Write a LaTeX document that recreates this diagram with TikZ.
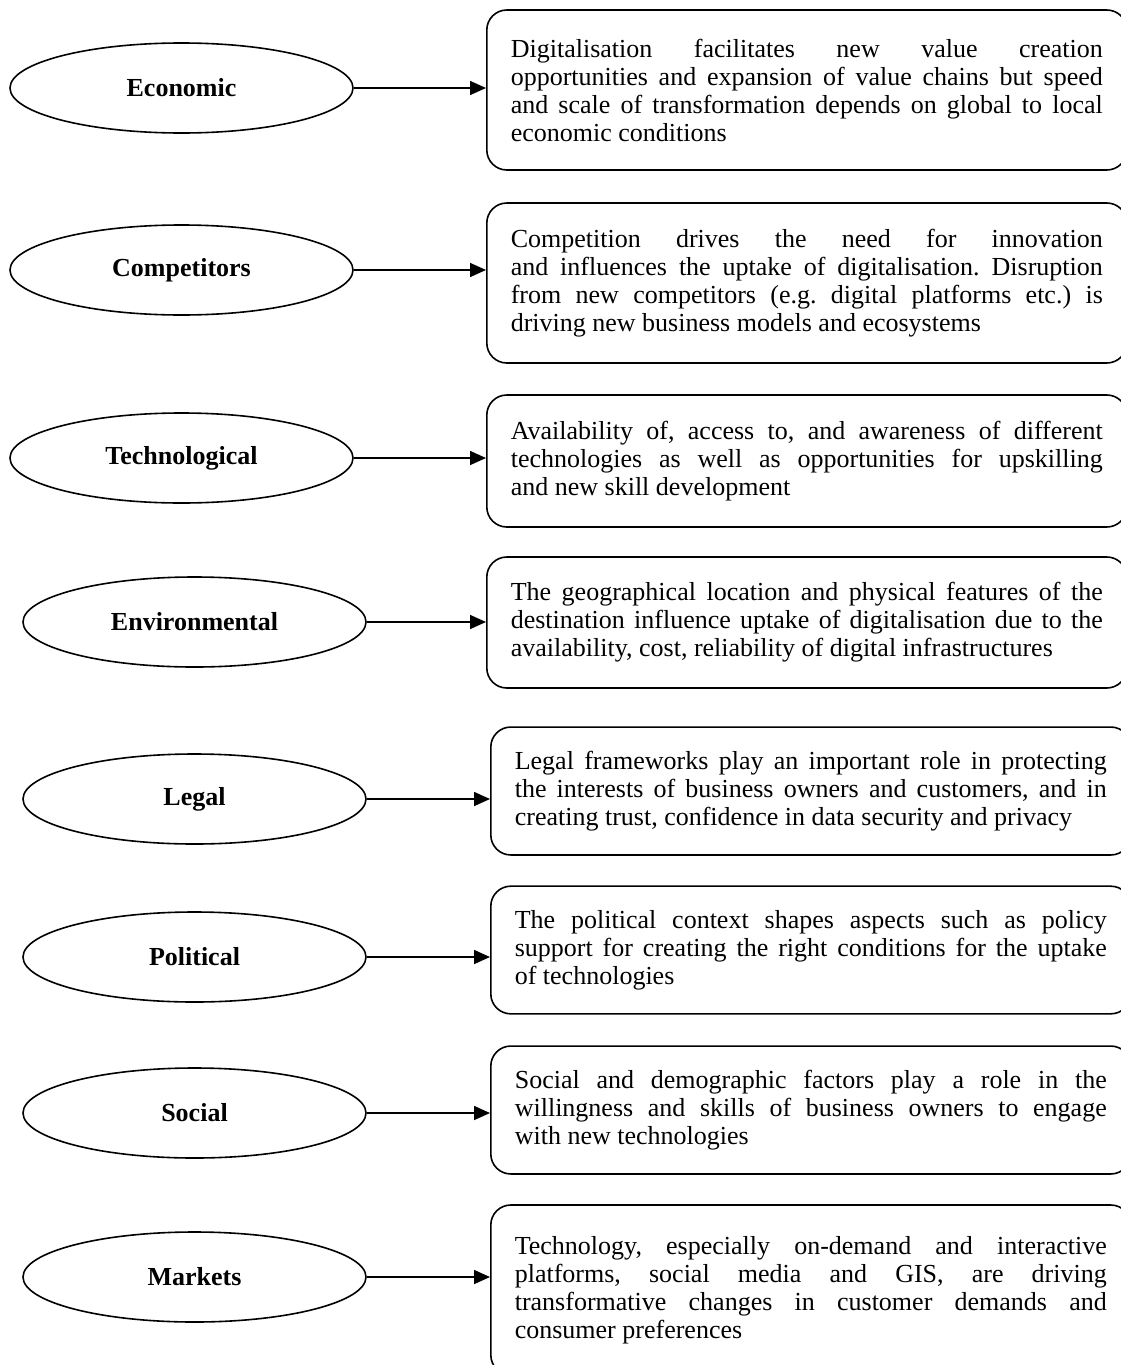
\documentclass[tikz,border=0pt]{standalone}
\usepackage{fontspec}
\setmainfont{Liberation Serif}
\usepackage{tikz}
\usetikzlibrary{shapes.geometric}
\usetikzlibrary{arrows.meta}
\usetikzlibrary{calc}
\hyphenpenalty=10000
\exhyphenpenalty=10000
\frenchspacing

\begin{document}
\begin{tikzpicture}[
		x=1pt,
		y=-1pt,
		font=\fontsize{26pt}{28pt}\selectfont,
		>={Triangle[length=16pt,width=14pt]},
		line width=1.6pt,
	]
		\tikzset{factor/.style={
			draw,
			ellipse,
			minimum width=343,
			minimum height=90,
			inner sep=0,
			font=\fontsize{26pt}{28pt}\selectfont\bfseries,
		}}
		\tikzset{effect/.style={
			draw,
			rectangle,
			rounded corners=20,
			anchor=west,
			inner xsep=24,
			inner ysep=24,
			text width=592,
			align=justify,
		}}

		\clip (0,0) rectangle (1121,1365);

		\node[factor] (economic) at (181.5,88) {Economic};
		\node[factor] (competitors) at (181.5,270) {Competitors};
		\node[factor] (technological) at (181.5,458) {Technological};
		\node[factor] (environmental) at (194.5,622) {Environmental};
		\node[factor] (legal) at (194.5,799) {Legal};
		\node[factor] (political) at (194.5,957) {Political};
		\node[factor] (social) at (194.5,1113) {Social};
		\node[factor] (markets) at (194.5,1277) {Markets};

		\node[effect, minimum height=160] (economicbox) at (486,90) {Digitalisation facilitates new value creation\linebreak
			opportunities and expansion of value chains but speed\linebreak
			and scale of transformation depends on global to local\linebreak
			economic conditions};
		\node[effect, minimum height=160] (competitorsbox) at (486,283) {Competition drives the need for innovation\linebreak
			and influences the uptake of digitalisation. Disruption\linebreak
			from new competitors (e.g. digital platforms etc.) is\linebreak
			driving new business models and ecosystems};
		\node[effect, minimum height=132] (technologicalbox) at (486,461) {Availability of, access to, and awareness of different\linebreak
			technologies as well as opportunities for upskilling\linebreak
			and new skill development};
		\node[effect, minimum height=131] (environmentalbox) at (486,622.5) {The geographical location and physical features of the\linebreak
			destination influence uptake of digitalisation due to the\linebreak
			availability, cost, reliability of digital infrastructures};
		\node[effect] (legalbox) at (490,791) {Legal frameworks play an important role in protecting\linebreak
			the interests of business owners and customers, and in\linebreak
			creating trust, confidence in data security and privacy};
		\node[effect] (politicalbox) at (490,950) {The political context shapes aspects such as policy\linebreak
			support for creating the right conditions for the uptake\linebreak
			of technologies};
		\node[effect] (socialbox) at (490,1110) {Social and demographic factors play a role in the\linebreak
			willingness and skills of business owners to engage\linebreak
			with new technologies};
		\node[effect, minimum height=170] (marketsbox) at (490,1290) {Technology, especially on-demand and interactive\linebreak
			platforms, social media and GIS, are driving\linebreak
			transformative changes in customer demands and\linebreak
			consumer preferences};

		\draw[->] (economic.east) -- (economic.east -| economicbox.west);
		\draw[->] (competitors.east) -- (competitors.east -| competitorsbox.west);
		\draw[->] (technological.east) -- (technological.east -| technologicalbox.west);
		\draw[->] (environmental.east) -- (environmental.east -| environmentalbox.west);
		\draw[->] (legal.east) -- (legal.east -| legalbox.west);
		\draw[->] (political.east) -- (political.east -| politicalbox.west);
		\draw[->] (social.east) -- (social.east -| socialbox.west);
		\draw[->] (markets.east) -- (markets.east -| marketsbox.west);
	\end{tikzpicture}
\end{document}
